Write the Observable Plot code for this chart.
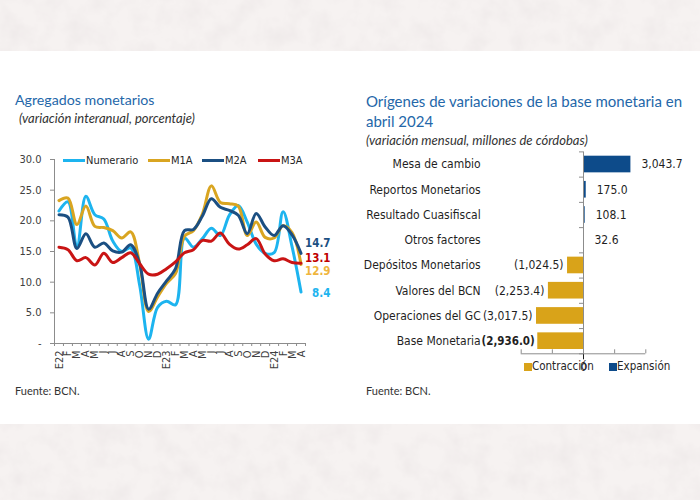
<!DOCTYPE html>
<html><head><meta charset="utf-8">
<script src="https://cdn.jsdelivr.net/npm/d3@7"></script>
<script src="https://cdn.jsdelivr.net/npm/@observablehq/plot@0.6"></script>
<style>
html,body{margin:0;padding:0;}
body{width:700px;height:500px;position:relative;overflow:hidden;background:#f6f2f1;font-family:Lato,"Open Sans",sans-serif;}
#tex{position:absolute;left:0;top:0;width:700px;height:500px;
 background-image:url("data:image/svg+xml;utf8,<svg xmlns='http://www.w3.org/2000/svg' width='700' height='500'><filter id='n'><feTurbulence type='fractalNoise' baseFrequency='0.045' numOctaves='4' seed='3'/><feColorMatrix values='0 0 0 0 0.84  0 0 0 0 0.80  0 0 0 0 0.80  1.3 0 0 0 -0.5'/></filter><rect width='700' height='500' filter='url(%23n)'/></svg>");}
#panel{position:absolute;left:0;top:51px;width:700px;height:373px;background:#fff;}
.t{position:absolute;white-space:nowrap;}
.title{font-size:15px;line-height:20px;color:#2467a9;}
.sub{font-size:13px;line-height:15px;font-style:italic;color:#333;}
.src{font-size:11px;line-height:13px;color:#333;}
.chart{position:absolute;}
.leg{position:absolute;font-family:"DejaVu Sans Condensed","Liberation Sans",sans-serif;font-size:11px;line-height:13px;color:#262626;white-space:nowrap;}
.sw{position:absolute;height:3px;width:22px;}
.sq{position:absolute;width:8px;height:8px;}
</style></head><body>
<div id="tex"></div>
<div id="panel"></div>
<div class="t title" style="left:15px;top:90px;font-size:14.2px">Agregados monetarios</div>
<div class="t sub" style="left:19px;top:111px">(variación interanual, porcentaje)</div>
<div class="t title" style="left:366px;top:91px">Orígenes de variaciones de la base monetaria en<br>abril 2024</div>
<div class="t sub" style="left:366px;top:133px">(variación mensual, millones de córdobas)</div>
<div class="t src" style="left:15px;top:384px">Fuente: BCN.</div>
<div class="t src" style="left:366px;top:384px">Fuente: BCN.</div>
<div id="left" class="chart" style="left:0;top:150px"></div>
<div id="right" class="chart" style="left:350px;top:140px"></div>
<div id="legL"></div>
<div id="legR"></div>
<script>
// ---- Left chart data ----
const months = ["E22","F","M","A","M","J","J","A","S","O","N","D","E23","F","M","A","M","J","J","A","S","O","N","D","E24","F","M","A"];
const numerario = [21.6, 23.1, 15.7, 24.0, 21.0, 20.3, 16.7, 15.0, 15.6, 9.5, 0.7, 5.9, 6.9, 6.3, 17.2, 15.7, 17.1, 18.8, 17.6, 20.9, 22.5, 19.8, 16.2, 14.7, 14.8, 21.5, 15.8, 8.4];
const m1a = [23.3, 23.7, 19.4, 22.4, 19.1, 18.9, 18.4, 17.2, 18.2, 13.0, 5.2, 7.6, 9.8, 11.4, 17.5, 18.4, 21.1, 25.7, 23.0, 22.8, 22.4, 17.6, 19.8, 17.3, 17.2, 19.2, 18.1, 12.9];
const m2a = [21.0, 20.6, 15.5, 17.9, 15.7, 16.4, 15.1, 14.9, 16.1, 13.0, 5.6, 8.2, 10.2, 12.2, 18.4, 18.6, 20.8, 23.6, 22.2, 21.7, 20.9, 17.9, 21.2, 19.0, 17.6, 19.2, 17.7, 14.7];
const m3a = [15.7, 15.3, 13.5, 14.0, 12.8, 14.7, 13.2, 14.0, 14.8, 13.0, 11.3, 11.3, 12.2, 13.3, 14.8, 15.3, 16.8, 16.7, 18.0, 16.2, 15.4, 16.1, 17.1, 14.6, 13.5, 13.8, 13.2, 13.1];
const seriesNames = ["Numerario","M1A","M2A","M3A"];
const yTicks = [0, 5, 10, 15, 20, 25, 30];

// ---- Right chart data ----
const barCategories = ["Mesa de cambio","Reportos Monetarios","Resultado Cuasifiscal","Otros factores","Depósitos Monetarios","Valores del BCN","Operaciones del GC","Base Monetaria"];
const barValues = [3043.7, 175.0, 108.1, 32.6, -1024.5, -2253.4, -3017.5, -2936.0];
const barTicks = [-4000, -2000, 0, 2000, 4000];
const barLegend = ["Contracción","Expansión"];

// ---- styles ----
const lineColors = {Numerario:"#1db4ef", M1A:"#d9a521", M2A:"#1b4f82", M3A:"#c91414"};
const endColors = {Numerario:"#1db4ef", M1A:"#efb53c", M2A:"#1b4f82", M3A:"#c00000"};
const endOffsets = {Numerario:{dx:11,dy:1}, M1A:{dx:4,dy:7}, M2A:{dx:4,dy:-10}, M3A:{dx:4,dy:-5}};
const gold = "#d9a319", blue = "#0d4b8a", axisGray = "#8c8c8c";
const chartFont = '"DejaVu Sans Condensed","Liberation Sans",sans-serif';

// ---- Left: line chart ----
const rows = [];
[numerario, m1a, m2a, m3a].forEach((arr, s) => arr.forEach((v, i) => rows.push({series: seriesNames[s], i, v})));
const n = months.length;
const xDom = [-0.5, n - 0.5];
const boundaries = d3.range(n + 1).map(k => k - 0.5);

const lineMarks = seriesNames.map(s => Plot.line(rows.filter(d => d.series === s),
  {x: "i", y: "v", stroke: lineColors[s], strokeWidth: 3, curve: "catmull-rom"}));
const endMarks = seriesNames.map(s => {
  const d = rows.filter(r => r.series === s).at(-1);
  return Plot.text([d], {x: "i", y: "v", text: r => r.v.toFixed(1), dx: endOffsets[s].dx, dy: endOffsets[s].dy,
    textAnchor: "start", fill: endColors[s], fontWeight: "bold", fontSize: 11.5});
});

const left = Plot.plot({
  width: 350, height: 230, marginLeft: 54, marginRight: 45, marginTop: 9, marginBottom: 37,
  style: {fontFamily: chartFont, fontSize: "11px", color: "#404040", background: "transparent", overflow: "visible"},
  x: {type: "linear", domain: xDom, label: null},
  y: {domain: [0, 30], label: null},
  marks: [
    Plot.ruleY([0], {stroke: axisGray}),
    Plot.ruleX([xDom[0]], {stroke: axisGray}),
    Plot.axisY({ticks: yTicks, tickSize: 4, tickPadding: 9, stroke: axisGray, label: null,
      tickFormat: d => d === 0 ? "-" : d.toFixed(1)}),
    Plot.axisX({ticks: boundaries, tickSize: 3, tickFormat: () => "", stroke: axisGray, label: null}),
    Plot.axisX({ticks: d3.range(n), tickSize: 0, tickPadding: 7, tickRotate: -90, tickFormat: i => months[i], label: null}),
    ...lineMarks,
    ...endMarks
  ]
});
document.getElementById("left").append(left);

// left legend
const legL = document.getElementById("legL");
const legPos = {Numerario: 63, M1A: 148, M2A: 202, M3A: 258};
seriesNames.forEach(s => {
  const sw = document.createElement("div");
  sw.className = "sw"; sw.style.left = legPos[s] + "px"; sw.style.top = "158.5px"; sw.style.background = lineColors[s];
  legL.append(sw);
  const tx = document.createElement("div");
  tx.className = "leg"; tx.textContent = s; tx.style.left = (legPos[s] + 23) + "px"; tx.style.top = "153.5px";
  legL.append(tx);
});

// ---- Right: bar chart ----
const nb = barCategories.length;
const barRows = barCategories.map((c, i) => ({c, i, v: barValues[i]}));
const yDomB = [nb - 0.5, -0.5];
const bounds = d3.range(nb + 1).map(k => k - 0.5);
const num = d3.format(",.1f");
const fmt = v => v < 0 ? `(${num(-v)})` : num(v);
const totalIdx = nb - 1;
const half = 0.33;

const right = Plot.plot({
  width: 350, height: 222, marginLeft: 170.7, marginRight: 54.7, marginTop: 11.4, marginBottom: 8.7,
  style: {fontFamily: chartFont, fontSize: "12px", color: "#1f1f1f", background: "transparent", overflow: "visible"},
  x: {domain: [barTicks[0], barTicks[barTicks.length - 1]], label: null},
  y: {domain: yDomB, label: null},
  marks: [
    Plot.rect(barRows.filter(d => d.v < 0), {x1: d => 0, x2: "v", y1: d => d.i - half, y2: d => d.i + half, fill: gold}),
    Plot.rect(barRows.filter(d => d.v >= 0), {x1: d => 0, x2: "v", y1: d => d.i - half, y2: d => d.i + half, fill: blue}),
    Plot.ruleX([0], {stroke: axisGray}),
    Plot.ruleY(bounds, {y: d => d, x1: d => 0, x2: d => 0, insetLeft: -4, stroke: axisGray}),
    Plot.ruleY([yDomB[0]], {stroke: axisGray}),
    Plot.ruleX(barTicks, {x: d => d, y1: d => yDomB[0], y2: d => yDomB[0], insetTop: -4, stroke: axisGray}),
    Plot.axisY({ticks: d3.range(nb), tickSize: 0, tickPadding: 40.5, tickFormat: i => barCategories[i], label: null}),
    Plot.text(barRows.filter(d => d.v >= 0), {x: "v", y: "i", text: d => fmt(d.v), dx: 10.5, textAnchor: "start"}),
    Plot.text(barRows.filter(d => d.v < 0 && d.i !== totalIdx), {x: "v", y: "i", text: d => fmt(d.v), dx: -4, textAnchor: "end"}),
    Plot.text(barRows.filter(d => d.i === totalIdx), {x: "v", y: "i", text: d => fmt(d.v), dx: -3, textAnchor: "end", fontWeight: "bold", fontSize: 11.5})
  ]
});
document.getElementById("right").append(right);

// right legend
const legR = document.getElementById("legR");
[[barLegend[0], gold, 524], [barLegend[1], blue, 609]].forEach(([label, col, x]) => {
  const sq = document.createElement("div");
  sq.className = "sq"; sq.style.left = x + "px"; sq.style.top = "362.5px"; sq.style.background = col;
  legR.append(sq);
  const tx = document.createElement("div");
  tx.className = "leg"; tx.style.fontSize = "11.5px"; tx.textContent = label; tx.style.left = (x + 8) + "px"; tx.style.top = "360px";
  legR.append(tx);
});
</script>
</body></html>
